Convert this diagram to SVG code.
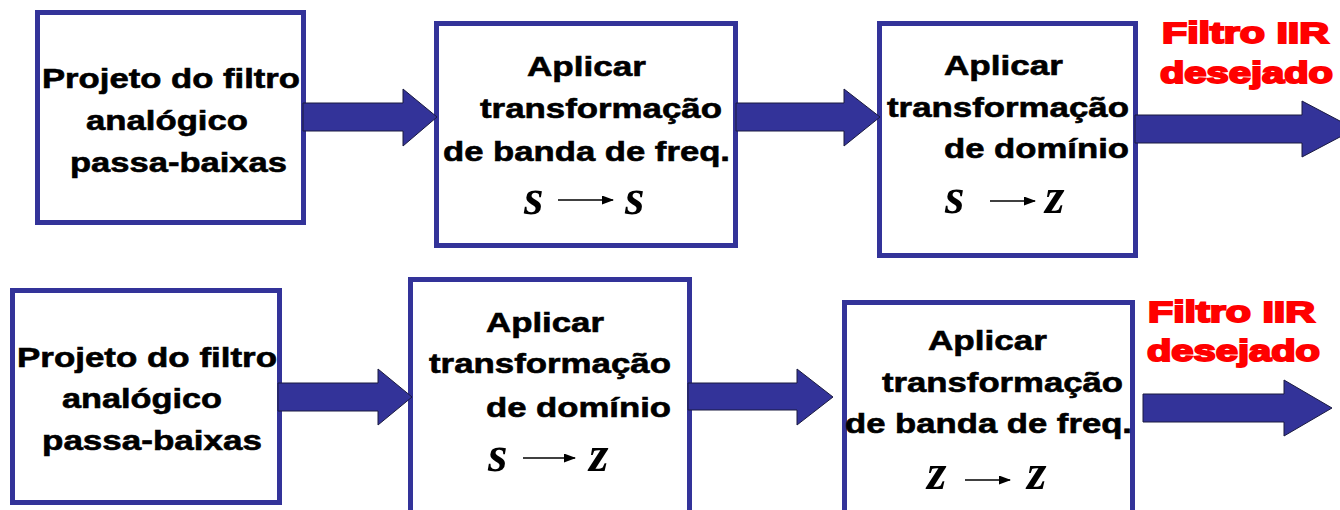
<svg xmlns="http://www.w3.org/2000/svg" width="1340" height="510" viewBox="0 0 1340 510">
<style>
.box{fill:#fff;stroke:#333399;stroke-width:5}
.arr{fill:#333399;stroke:#1a1a40;stroke-width:1}
.t{font-family:"Liberation Sans",Arial,sans-serif;font-weight:bold;font-size:28px;fill:#000;stroke:#000;stroke-width:0.6}
.r{font-family:"Liberation Sans",Arial,sans-serif;font-weight:bold;font-size:30px;fill:#ff0000;stroke:#ff0000;stroke-width:2}
.m{font-family:"Liberation Serif","Times New Roman",serif;font-weight:bold;font-style:italic;font-size:50px;fill:#000}
.ml{stroke:#000;stroke-width:1.6;fill:none}
</style>
<defs>
<marker id="ah" viewBox="0 0 12 9" refX="11" refY="4.5" markerWidth="12" markerHeight="9" markerUnits="userSpaceOnUse" orient="auto">
<path d="M0,0 L12,4.5 L0,9 Z" fill="#000"/>
</marker>
</defs>
<rect width="1340" height="510" fill="#fff"/>

<g id="b1">
<rect class="box" x="37.5" y="12.5" width="266" height="210"/>
<text class="t" x="42" y="88" textLength="258" lengthAdjust="spacingAndGlyphs">Projeto do filtro</text>
<text class="t" x="86" y="130" textLength="162" lengthAdjust="spacingAndGlyphs">analógico</text>
<text class="t" x="70" y="172" textLength="217" lengthAdjust="spacingAndGlyphs">passa-baixas</text>
</g>
<g id="b2">
<rect class="box" x="436.5" y="23.5" width="299" height="222"/>
<text class="t" x="527" y="76" textLength="119" lengthAdjust="spacingAndGlyphs">Aplicar</text>
<text class="t" x="480" y="118" textLength="242" lengthAdjust="spacingAndGlyphs">transformação</text>
<text class="t" x="443" y="161" textLength="287" lengthAdjust="spacingAndGlyphs">de banda de freq.</text>
<text class="m" x="524" y="214">s</text>
<line class="ml" x1="558" y1="200" x2="613" y2="200" marker-end="url(#ah)"/>
<text class="m" x="625" y="214">s</text>
</g>
<g id="b3">
<rect class="box" x="879.5" y="23.5" width="256" height="232"/>
<text class="t" x="944" y="75" textLength="119" lengthAdjust="spacingAndGlyphs">Aplicar</text>
<text class="t" x="887" y="117" textLength="242" lengthAdjust="spacingAndGlyphs">transformação</text>
<text class="t" x="944" y="158" textLength="185" lengthAdjust="spacingAndGlyphs">de domínio</text>
<text class="m" x="945" y="213">s</text>
<line class="ml" x1="990" y1="201" x2="1035" y2="201" marker-end="url(#ah)"/>
<text class="m" x="1045" y="213">z</text>
</g>
<g id="out1">
<text class="r" x="1162" y="43" textLength="167" lengthAdjust="spacingAndGlyphs">Filtro IIR</text>
<text class="r" x="1160" y="83" textLength="173" lengthAdjust="spacingAndGlyphs">desejado</text>
</g>

<g id="b4">
<rect class="box" x="12.5" y="290.5" width="267" height="212"/>
<text class="t" x="17" y="367" textLength="260" lengthAdjust="spacingAndGlyphs">Projeto do filtro</text>
<text class="t" x="62" y="408" textLength="160" lengthAdjust="spacingAndGlyphs">analógico</text>
<text class="t" x="42" y="450" textLength="220" lengthAdjust="spacingAndGlyphs">passa-baixas</text>
</g>
<g id="b5">
<rect class="box" x="410.5" y="279.5" width="279" height="250"/>
<text class="t" x="486" y="332" textLength="118" lengthAdjust="spacingAndGlyphs">Aplicar</text>
<text class="t" x="429" y="373" textLength="242" lengthAdjust="spacingAndGlyphs">transformação</text>
<text class="t" x="486" y="417" textLength="185" lengthAdjust="spacingAndGlyphs">de domínio</text>
<text class="m" x="488" y="471">s</text>
<line class="ml" x1="523" y1="458" x2="575" y2="458" marker-end="url(#ah)"/>
<text class="m" x="589" y="471">z</text>
</g>
<g id="b6">
<rect class="box" x="844.5" y="302.5" width="288" height="230"/>
<text class="t" x="928" y="350" textLength="119" lengthAdjust="spacingAndGlyphs">Aplicar</text>
<text class="t" x="882" y="392" textLength="241" lengthAdjust="spacingAndGlyphs">transformação</text>
<text class="t" x="845" y="433" textLength="287" lengthAdjust="spacingAndGlyphs">de banda de freq.</text>
<text class="m" x="927" y="489">z</text>
<line class="ml" x1="965" y1="480" x2="1010" y2="480" marker-end="url(#ah)"/>
<text class="m" x="1027" y="489">z</text>
</g>
<g id="out2">
<text class="r" x="1148" y="322" textLength="167" lengthAdjust="spacingAndGlyphs">Filtro IIR</text>
<text class="r" x="1147" y="361" textLength="173" lengthAdjust="spacingAndGlyphs">desejado</text>
</g>

<g id="connectors">
<polygon class="arr" points="303,103 403,103 403,89 437,117 403,146 403,131 303,131"/>
<polygon class="arr" points="736,103 844,103 844,89 880,117 844,146 844,131 736,131"/>
<polygon class="arr" points="1135,115 1302,115 1302,101 1355,129 1302,157 1302,143 1135,143"/>
<polygon class="arr" points="278,383 378,383 378,369 412,397 378,425 378,411 278,411"/>
<polygon class="arr" points="688,383 797,383 797,369 833,397 797,425 797,410 688,410"/>
<polygon class="arr" points="1143,394 1284,394 1284,380 1332,408 1284,436 1284,422 1143,422"/>
</g>
</svg>
